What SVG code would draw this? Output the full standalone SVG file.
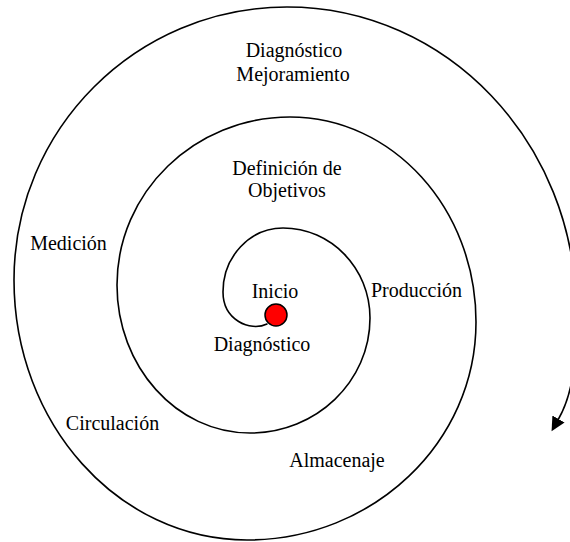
<svg xmlns="http://www.w3.org/2000/svg" width="570" height="542" viewBox="0 0 570 542">
  <style>
    .lbl { font-family: "Liberation Serif", "Times New Roman", serif; font-size: 20px; fill: #000; text-anchor: middle; }
    .spiral { fill: none; stroke: #000; stroke-width: 1.6; stroke-linecap: round; stroke-linejoin: round; }
  </style>
  <defs>
    <marker id="arrowEnd" markerUnits="userSpaceOnUse" markerWidth="16" markerHeight="16" refX="0" refY="7" orient="auto">
      <path d="M0,0 L14,7 L0,14 z" fill="#000"/>
    </marker>
  </defs>
  <rect width="570" height="542" fill="#fff"/>

  <!-- spiral path, winding clockwise outward from the start point -->
  <g id="connectors">
    <path class="spiral" marker-end="url(#arrowEnd)" d="
      M 267 324
      C 250 332, 223 320, 223 292
      C 223 256.7, 249.9 228, 283 228
      C 331 228, 370 268.3, 370 318
      C 370 381.5, 316.3 433, 250 433
      C 176.5 433, 117 366.7, 117 285
      C 117 192.2, 194.5 117, 290 117
      C 392.7 117, 476 208.8, 476 322
      C 476 442.4, 373.5 540, 247 540
      C 118.3 540, 14 423.6, 14 280
      C 14 129.2, 136.2 7, 287 7
      C 446.6 7, 576 142.7, 576 310
      C 576 355, 575 390, 558.5 419"/>
  </g>

  <!-- start point -->
  <g id="node-inicio">
    <circle cx="276" cy="315" r="11" fill="#ff0000" stroke="#000" stroke-width="1.5"/>
    <text class="lbl" x="275" y="298">Inicio</text>
  </g>
  <g id="node-diagnostico">
    <text class="lbl" x="262" y="351">Diagnóstico</text>
  </g>
  <g id="node-definicion">
    <text class="lbl" x="287" y="175">Definición de</text>
    <text class="lbl" x="287" y="197">Objetivos</text>
  </g>
  <g id="node-produccion">
    <text class="lbl" x="416.5" y="297">Producción</text>
  </g>
  <g id="node-almacenaje">
    <text class="lbl" x="337" y="467">Almacenaje</text>
  </g>
  <g id="node-circulacion">
    <text class="lbl" x="112.5" y="430">Circulación</text>
  </g>
  <g id="node-medicion">
    <text class="lbl" x="68.5" y="250">Medición</text>
  </g>
  <g id="node-mejoramiento">
    <text class="lbl" x="294" y="57">Diagnóstico</text>
    <text class="lbl" x="293" y="81">Mejoramiento</text>
  </g>
</svg>
